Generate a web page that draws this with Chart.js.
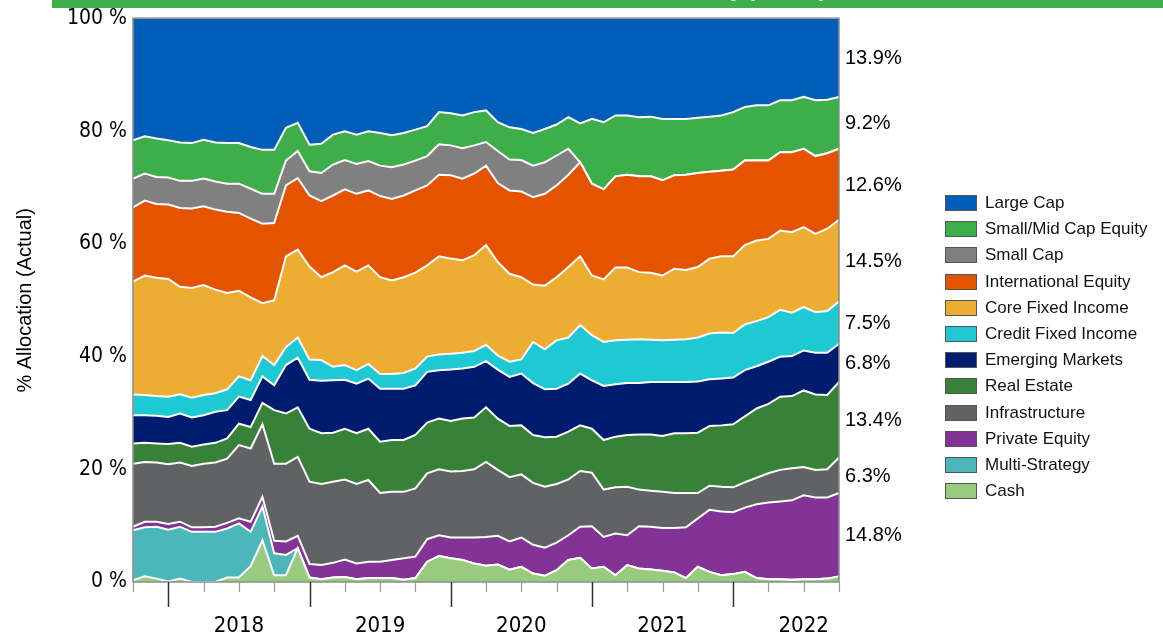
<!DOCTYPE html>
<html>
<head>
<meta charset="utf-8">
<script src="https://cdn.jsdelivr.net/npm/chart.js@4.4.1/dist/chart.umd.min.js"></script>
<style>
  html, body { margin: 0; padding: 0; background: #fff; }
  #wrap { position: relative; width: 1163px; height: 641px; overflow: hidden; font-family: 'Liberation Sans', Arial, sans-serif; }
  #chart { position: absolute; left: 0; top: 0; }
  #titlebar { position: absolute; left: 52px; top: 0; width: 1111px; height: 8px; background: #3cae4a; overflow: hidden; }
  #titlebar span { position: absolute; left: 0; right: 0; top: -22px; line-height: 24px; text-align: center; color: #fff; font-weight: bold; font-size: 21px; white-space: nowrap; }
  #legend { position: absolute; left: 945px; top: 190px; }
  .item { display: flex; align-items: center; height: 26.2px; font-size: 17px; color: #111; white-space: nowrap; }
  .sw { width: 30px; height: 14px; border: 1px solid #555; margin-right: 8px; }
</style>
</head>
<body>
<div id="wrap">
  <canvas id="chart" width="1163" height="641"></canvas>
  <div id="titlebar"><span>Total Fund Asset Allocation History (Actual)</span></div>
  <div id="legend"></div>
</div>
<script>
// months Oct 2017 .. Oct 2022 (category axis)
const months = [];
for (let i = 0; i < 61; i++) {
  const m = (9 + i) % 12, y = 2017 + Math.floor((9 + i) / 12);
  months.push(y + "-" + String(m + 1).padStart(2, "0"));
}
const years = ["2018", "2019", "2020", "2021", "2022"];
const yTicks = [0, 20, 40, 60, 80, 100];

// % allocation per asset class
const largeCap = [21.6,20.9,21.3,21.6,22.0,22.1,21.5,22.0,22.1,22.1,
  22.8,23.3,23.3,19.4,18.5,22.4,22.2,20.6,20.0,20.6,
  20.0,20.3,20.7,20.3,19.7,19.1,16.6,16.8,17.2,16.6,
  16.3,18.4,19.3,19.6,20.3,19.6,18.8,17.5,18.6,17.8,
  18.4,17.2,17.2,17.5,17.4,17.8,17.8,17.8,17.6,17.4,
  17.2,16.6,15.7,15.4,15.4,14.5,14.5,13.9,14.5,14.4,
  13.9];
const smidCap = [6.8,6.6,6.8,6.6,6.8,6.7,6.9,6.9,7.2,7.2,
  7.4,7.8,7.8,5.8,5.0,4.7,5.2,5.3,5.1,5.2,
  5.3,5.8,5.7,5.6,5.5,5.3,5.7,5.7,5.8,5.9,
  5.6,5.1,5.7,5.5,5.8,5.9,5.5,5.6,6.9,11.5,
  11.9,10.8,10.5,10.5,10.6,10.9,10.0,9.9,9.8,9.8,
  9.8,10.2,9.5,9.8,9.8,9.2,9.2,9.2,9.9,9.5,
  9.2];
const smallCap = [5.1,4.8,4.8,4.8,4.8,4.9,4.9,5.0,5.0,5.2,
  5.3,5.3,5.2,4.4,4.8,4.3,5.0,5.5,5.2,5.3,
  5.2,5.4,5.6,5.5,5.3,5.2,5.4,5.3,5.4,5.0,
  4.2,5.7,5.5,5.6,5.6,5.6,5.3,4.6,0,0,
  0,0,0,0,0,0,0,0,0,0,
  0,0,0,0,0,0,0,0,0,0,
  0];
const intlEquity = [13.2,13.3,13.1,13.2,14.0,14.1,14.0,14.2,14.4,13.8,
  14.0,14.1,13.7,12.6,12.7,12.6,13.5,13.6,13.5,13.8,
  13.3,14.4,14.5,14.5,14.6,14.2,14.5,14.8,14.5,14.5,
  14.1,14.0,14.8,15.2,15.5,16.3,16.3,16.4,16.7,16.3,
  16.0,16.2,16.5,17.0,17.1,16.9,16.6,16.9,16.7,15.4,
  15.2,15.4,15.0,14.2,13.9,13.9,14.2,13.9,13.8,13.4,
  12.6];
const coreFixed = [20.0,21.2,21.0,20.9,19.1,19.5,19.5,18.4,17.1,15.2,
  14.7,9.4,11.5,16.1,15.6,16.5,14.7,16.8,17.7,17.5,
  17.5,17.2,16.6,17.0,17.0,16.2,17.4,16.9,16.4,17.0,
  17.7,16.6,15.6,14.6,10.2,11.3,11.2,12.5,12.2,10.6,
  11.1,12.9,12.8,11.9,11.9,11.5,12.6,12.3,12.5,13.3,
  13.5,13.6,14.1,14.3,13.9,14.1,14.3,14.2,13.9,14.6,
  14.5];
const creditFixed = [3.7,3.6,3.5,3.6,3.4,3.5,3.6,3.3,3.7,3.6,
  3.5,3.6,3.6,3.2,3.6,3.6,3.7,2.4,2.6,2.4,
  2.6,2.6,2.6,2.8,3.0,2.7,2.8,2.8,2.8,2.8,
  2.9,2.5,2.7,2.5,7.3,7.1,8.6,8.2,8.6,8.0,
  7.8,7.8,7.7,7.8,7.5,7.4,7.5,7.6,7.8,8.1,
  8.2,7.9,8.1,8.0,7.9,8.3,7.7,7.7,7.2,7.4,
  7.5];
const emergingMkts = [5.0,4.9,4.9,4.8,5.2,5.2,5.2,5.5,5.0,4.8,
  4.8,4.7,4.4,8.6,8.8,8.7,9.3,9.3,8.7,8.8,
  8.9,9.4,9.1,9.1,8.8,9.0,8.6,9.1,8.9,9.0,
  8.2,8.7,8.7,9.2,9.2,8.5,8.5,8.5,9.2,8.6,
  9.6,9.3,9.2,9.1,9.3,9.6,9.1,9.1,9.1,8.3,
  8.3,8.3,8.2,7.5,7.5,7.1,7.1,7.1,7.4,7.5,
  6.8];
const realEstate = [3.6,3.4,3.4,3.6,3.5,3.4,3.4,3.5,3.6,3.8,
  3.8,3.8,9.5,8.9,8.8,9.4,9.0,8.7,9.0,9.0,
  9.1,9.1,9.2,9.2,9.5,9.0,9.0,9.0,9.3,9.2,
  9.7,9.1,9.1,8.7,8.5,8.8,8.4,8.5,8.1,7.8,
  8.8,9.0,9.2,9.8,10.0,9.9,10.6,10.6,10.7,10.6,
  10.9,11.2,11.7,12.3,12.3,13.0,12.8,13.6,13.4,13.2,
  13.4];
const infrastructure = [11.2,10.6,10.5,10.6,10.5,10.9,11.3,11.4,11.4,13.0,
  13.0,12.9,13.7,13.8,14.0,14.6,14.4,14.4,14.2,14.1,
  14.5,12.2,12.1,11.8,12.1,11.7,11.7,11.7,11.8,12.1,
  13.3,11.7,11.4,11.2,11.0,10.8,10.4,9.9,9.9,9.5,
  8.4,8.2,8.6,6.5,6.4,6.4,6.2,6.1,4.5,4.3,
  4.4,4.4,4.5,4.7,5.2,5.6,5.7,5.0,4.9,5.0,
  6.3];
const privateEquity = [0.6,1.0,0.9,1.0,0.9,0.8,0.8,0.9,1.0,0.9,
  1.8,1.7,2.2,2.4,2.2,2.4,2.5,2.6,3.1,2.8,
  2.9,2.9,3.2,3.8,3.8,4.0,3.7,3.7,4.0,4.6,
  5.1,5.1,5.0,5.2,5.1,5.0,4.9,4.4,5.5,7.5,
  5.3,7.4,5.3,7.5,7.6,7.6,7.9,9.0,8.6,11.0,
  11.3,11.0,11.4,13.1,13.6,13.8,14.1,14.9,14.5,14.4,
  14.8];
const multiStrategy = [8.9,8.7,9.2,9.2,9.2,8.9,8.9,8.9,8.7,9.6,
  6.1,6.0,3.9,3.6,0,0,0,0,0,0,
  0,0,0,0,0,0,0,0,0,0,
  0,0,0,0,0,0,0,0,0,0,
  0,0,0,0,0,0,0,0,0,0,
  0,0,0,0,0,0,0,0,0,0,
  0];
const cash = [0.3,1.0,0.6,0.1,0.6,0,0,0,0.8,0.8,
  2.8,7.4,1.2,1.2,6.0,0.8,0.5,0.8,0.9,0.5,
  0.7,0.7,0.7,0.4,0.7,3.6,4.6,4.2,3.9,3.3,
  2.9,3.1,2.2,2.7,1.5,1.1,2.1,3.9,4.3,2.4,
  2.7,1.2,3.0,2.4,2.2,2.0,1.7,0.7,2.7,1.8,
  1.2,1.4,1.8,0.7,0.5,0.5,0.4,0.5,0.5,0.6,
  1.0];

// legend order (top of stack first)
const names = ["Large Cap", "Small/Mid Cap Equity", "Small Cap", "International Equity",
  "Core Fixed Income", "Credit Fixed Income", "Emerging Markets", "Real Estate",
  "Infrastructure", "Private Equity", "Multi-Strategy", "Cash"];
const values = [largeCap, smidCap, smallCap, intlEquity, coreFixed, creditFixed,
  emergingMkts, realEstate, infrastructure, privateEquity, multiStrategy, cash];
const colors = ["#005db8", "#3dae4a", "#808080", "#e35300", "#edad33", "#1fc9d3",
  "#001c6e", "#388138", "#616264", "#833396", "#4bb7ba", "#98cb7e"];

const SANS = "'Liberation Sans', Arial, sans-serif";
const NARROW = "'DejaVu Sans Condensed', 'Liberation Sans Narrow', Arial, sans-serif";

// stacked from the bottom up
const datasets = [];
for (let k = names.length - 1; k >= 0; k--) {
  const bottom = datasets.length === 0;
  const top = k === 0;
  datasets.push({
    label: names[k],
    data: values[k],
    backgroundColor: colors[k],
    borderColor: "#ffffff",
    borderWidth: top ? 0 : 2,
    fill: bottom ? "origin" : "-1",
    pointRadius: 0,
    tension: 0
  });
}

// ticks, year labels, frame and end-value labels
const decor = {
  id: "decor",
  afterDatasetsDraw(chart) {
    const ctx = chart.ctx, a = chart.chartArea, xs = chart.scales.x, ys = chart.scales.y;
    const last = months.length - 1;
    ctx.save();

    // frame
    ctx.strokeStyle = "#8c8c8c";
    ctx.lineWidth = 1.5;
    ctx.strokeRect(a.left, a.top - 0.5, a.right - a.left, a.bottom - a.top + 0.5);

    // quarter ticks / year ticks
    months.forEach((m, i) => {
      const mm = m.slice(5);
      if (!["01", "04", "07", "10"].includes(mm)) return;
      const x = Math.round(xs.getPixelForValue(i)) + 0.5;
      const major = mm === "01";
      ctx.strokeStyle = major ? "#333" : "#9a9a9a";
      ctx.lineWidth = major ? 1.5 : 1.2;
      ctx.beginPath();
      ctx.moveTo(x, a.bottom);
      ctx.lineTo(x, a.bottom + (major ? 25 : 10));
      ctx.stroke();
    });

    ctx.fillStyle = "#000";
    ctx.font = "22px " + NARROW;
    ctx.textAlign = "center";
    ctx.textBaseline = "middle";
    years.forEach(y => {
      const i = months.indexOf(y + "-07");
      ctx.fillText(y, xs.getPixelForValue(i), a.bottom + 44);
    });

    // end values at the middle of each band
    ctx.font = "20px " + SANS;
    ctx.textAlign = "left";
    chart.data.datasets.forEach((ds, k) => {
      const v = ds.data[last];
      if (v < 2) return;
      const yTop = chart.getDatasetMeta(k).data[last].y;
      const yBot = k === 0 ? ys.getPixelForValue(0) : chart.getDatasetMeta(k - 1).data[last].y;
      ctx.fillText(v.toFixed(1) + "%", a.right + 6, (yTop + yBot) / 2 + 1);
    });
    ctx.restore();
  }
};

new Chart(document.getElementById("chart").getContext("2d"), {
  type: "line",
  data: { labels: months, datasets },
  options: {
    responsive: false,
    animation: false,
    layout: { padding: { top: 18, right: 324, bottom: 0, left: 0 } },
    plugins: { legend: { display: false }, tooltip: { enabled: false } },
    scales: {
      x: {
        type: "category",
        offset: false,
        ticks: { display: false },
        grid: { display: false, drawTicks: false },
        border: { display: false },
        afterFit: s => { s.height = 59; }
      },
      y: {
        stacked: true,
        min: 0,
        max: 100,
        afterBuildTicks: s => { s.ticks = yTicks.map(v => ({ value: v })); },
        ticks: { padding: 6, color: "#000", font: { family: NARROW, size: 21 }, callback: v => v + " %" },
        grid: { display: false, drawTicks: false },
        border: { display: false },
        title: { display: true, text: "% Allocation (Actual)", color: "#000", font: { family: SANS, size: 20 }, padding: { top: 13, bottom: 0 } },
        afterFit: s => { s.width = 133; }
      }
    }
  },
  plugins: [decor]
});

// html legend
const legend = document.getElementById("legend");
names.forEach((n, k) => {
  const row = document.createElement("div");
  row.className = "item";
  row.innerHTML = '<span class="sw" style="background:' + colors[k] + '"></span>' + n;
  legend.appendChild(row);
});
</script>
</body>
</html>
